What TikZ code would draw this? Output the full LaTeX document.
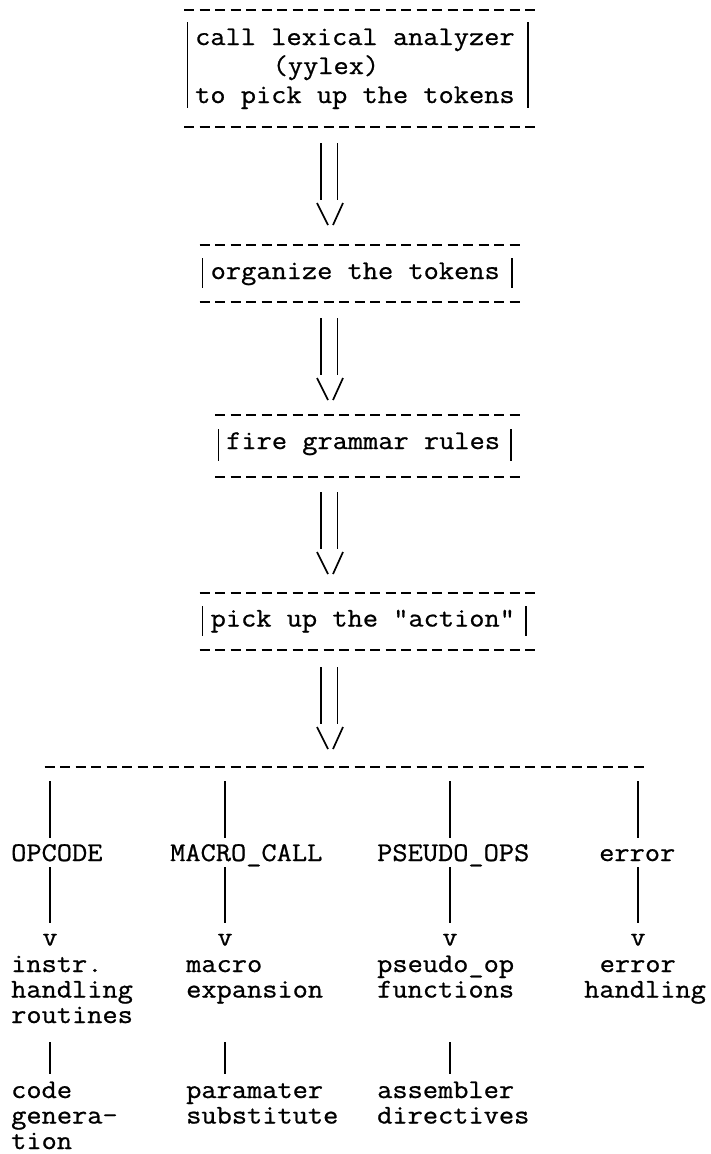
\documentclass[tikz,border=0pt]{standalone}
\usepackage{fontspec}
\newfontfamily\typewriter[FakeBold=0.8,FakeStretch=1.094]{Latin Modern Mono}
\tikzset{
  tw/.style={font=\typewriter\fontsize{27}{25.5}\selectfont, inner sep=0pt, anchor=base west},
  twc/.style={tw, anchor=base},
  % multi-line block: placed by the baseline of its last line
  twb/.style={tw, align=left},
  dashrule/.style={line width=1.8pt, dash pattern=on 10pt off 5.5pt},
  bar/.style={line width=1.2pt},
  vstroke/.style={line width=1.7pt},
}
% character cell: 15.5 units wide, first column at x = 11
\newcommand{\cx}[1]{11+15.5*#1}
% a double-shafted "||  \/" arrow hanging below a point
\newcommand{\dblarrow}[1]{%
  \draw[bar] ([xshift=-8pt]#1) -- ++(0,57);
  \draw[bar] ([xshift=8.5pt]#1) -- ++(0,57);
  \draw[vstroke] ([xshift=-12pt,yshift=-60pt]#1) -- ++(11,22);
  \draw[vstroke] ([xshift=14pt,yshift=-60pt]#1) -- ++(-10,22);
}
\begin{document}
\begin{tikzpicture}[x=1pt,y=-1pt]
\useasboundingbox (0,0) rectangle (710,1154);

% ---- box 1 ------------------------------------------------------------
\draw[dashrule] ({\cx{11}+2.5},10) -- ({\cx{34}-2.5},10);
\node[tw] (lex1) at ({\cx{12}-2},45) {call lexical analyzer};
\node[tw] (lex2) at ({\cx{17}-2},74) {(yylex)};
\node[tw] (lex3) at ({\cx{12}-2},103) {to pick up the tokens};
\draw[bar] (187.5,22) -- (187.5,108);
\draw[bar] (528,22) -- (528,108);
\draw[dashrule] ({\cx{11}+2.5},127) -- ({\cx{34}-2.5},127);

\coordinate (ar1) at (329,143);
\dblarrow{ar1}

% ---- box 2 ------------------------------------------------------------
\draw[dashrule] ({\cx{12}+2.5},245) -- ({\cx{33}-2.5},245);
\node[tw] (org) at ({\cx{13}-2},279) {organize the tokens};
\draw[bar] (202.75,258) -- (202.75,288);
\draw[bar] (512,258) -- (512,288);
\draw[dashrule] ({\cx{12}+2.5},302) -- ({\cx{33}-2.5},302);

\coordinate (ar2) at (329,318);
\dblarrow{ar2}

% ---- box 3 ------------------------------------------------------------
\draw[dashrule] ({\cx{13}+2.5},415) -- ({\cx{33}-2.5},415);
\node[tw] (fire) at ({\cx{14}-2},449) {fire grammar rules};
\draw[bar] (218.25,429) -- (218.25,461);
\draw[bar] (511,429) -- (511,461);
\draw[dashrule] ({\cx{13}+2.5},477) -- ({\cx{33}-2.5},477);

\coordinate (ar3) at (329,492);
\dblarrow{ar3}

% ---- box 4 ------------------------------------------------------------
\draw[dashrule] ({\cx{12}+2.5},593) -- ({\cx{34}-2.5},593);
\node[tw] (act) at ({\cx{13}-2},626.5) {pick up the "action"};
\draw[bar] (202.75,606) -- (202.75,636);
\draw[bar] (526,606) -- (526,636);
\draw[dashrule] ({\cx{12}+2.5},650) -- ({\cx{34}-2.5},650);

\coordinate (ar4) at (329,667);
\dblarrow{ar4}

% ---- branch rule ------------------------------------------------------
\draw[dashrule] ({\cx{2}+2.5},767) -- ({\cx{41}-2.5},767);

\coordinate (kA) at (50,767);
\coordinate (kB) at (225,767);
\coordinate (kC) at (450,767);
\coordinate (kD) at (638,767);

\node[tw] (opA) at (11,861) {OPCODE};
\node[tw] (opB) at (170,861) {MACRO\_CALL};
\node[tw] (opC) at (377,861) {PSEUDO\_OPS};
\node[tw] (opD) at (599,861) {error};

\foreach \k in {kA,kB,kC,kD}{
  \draw[bar] ([yshift=-14pt]\k) -- ++(0,57);
  \draw[bar] ([yshift=-100pt]\k) -- ++(0,56);
}

\node[twc] (vA) at (50,945.5) {v};
\node[twc] (vB) at (225,945.5) {v};
\node[twc] (vC) at (450,945.5) {v};
\node[twc] (vD) at (638,945.5) {v};

% ---- first-level actions ----------------------------------------------
\node[twb] (hA) at (11,1023) {instr.\\handling\\routines};
\node[twb] (hB) at (186,997.5) {macro\\expansion};
\node[twb] (hC) at (377,997.5) {pseudo\_op\\functions};
\node[twb] (hD) at (584,997.5) {\hspace*{15.5pt}error\\handling};

\coordinate (lA) at (50,1042);
\coordinate (lB) at (225,1042);
\coordinate (lC) at (450,1042);
\foreach \l in {lA,lB,lC}{\draw[bar] (\l) -- ++(0,32);}

% ---- second-level actions ---------------------------------------------
\node[twb] (gA) at (11,1149) {code\\genera-\\tion};
\node[twb] (gB) at (186,1123.5) {paramater\\substitute};
\node[twb] (gC) at (377,1123.5) {assembler\\directives};
\end{tikzpicture}
\end{document}
